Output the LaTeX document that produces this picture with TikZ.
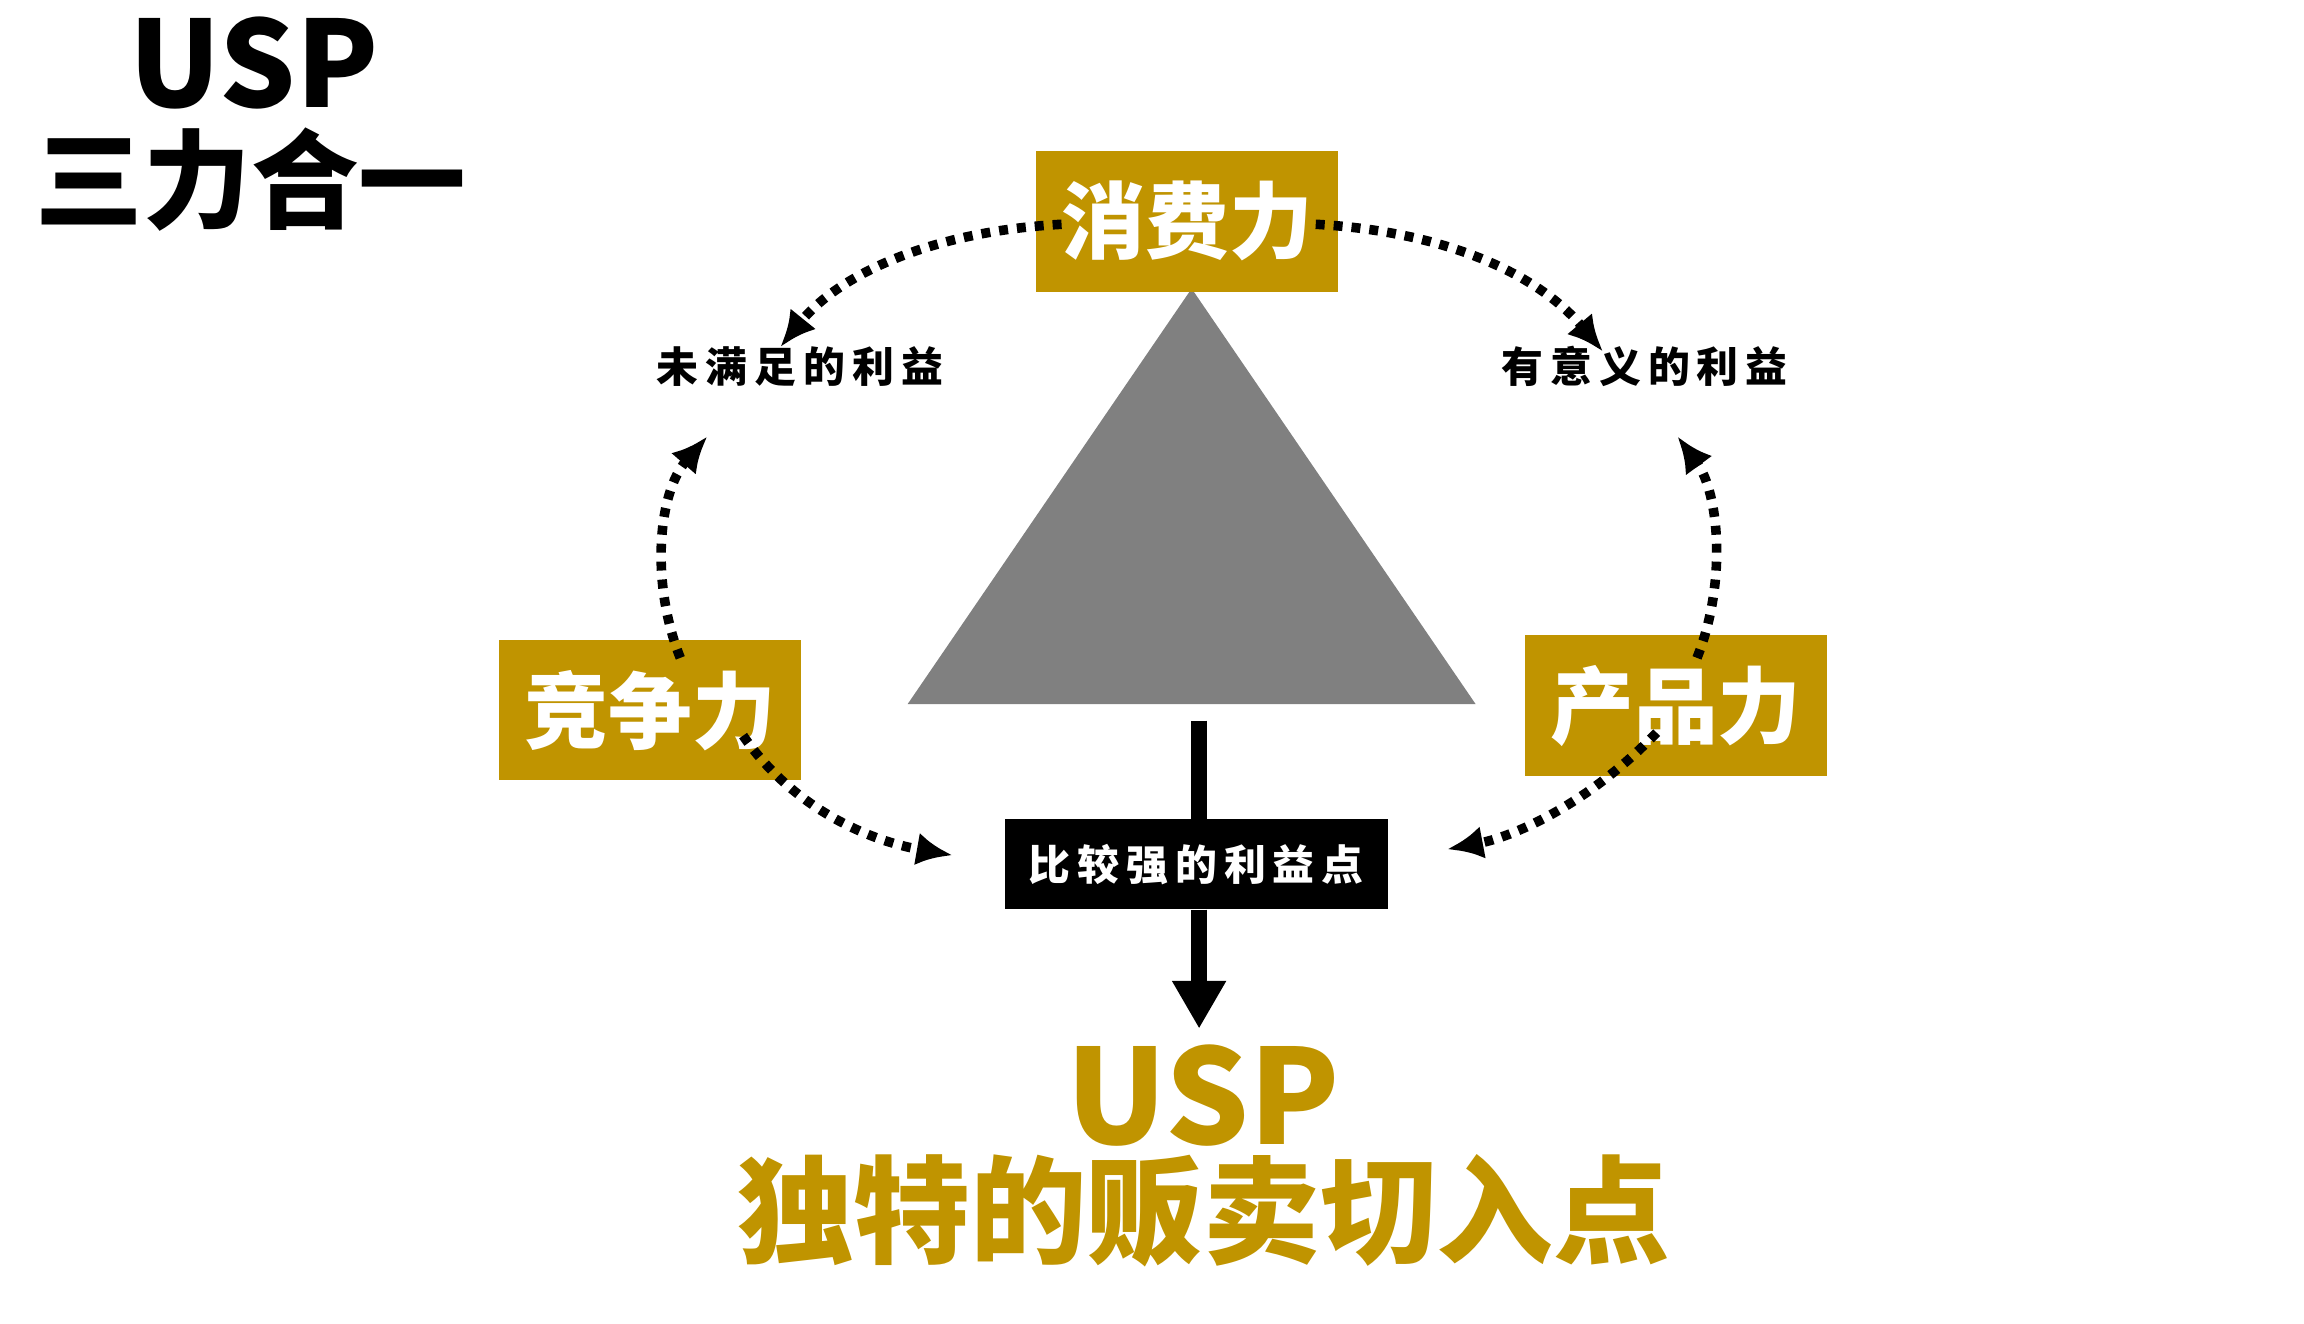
\documentclass[tikz,border=0pt]{standalone}
\usepackage{fontspec}
\newfontfamily\cjk{Noto Sans CJK SC}
\usetikzlibrary{arrows.meta}
\definecolor{gold}{HTML}{C09400}
\begin{document}
\begin{tikzpicture}[x=0.5pt,y=-0.5pt,
  goldbox/.style={fill=gold,minimum width=101pt,minimum height=47pt,inner sep=0pt,text=white,font=\cjk\bfseries\fontsize{28}{28}\selectfont},
  lbl/.style={font=\cjk\bfseries\fontsize{14}{14}\selectfont},
  dots/.style={line width=3.2pt,dash pattern=on 3pt off 3pt,-{Latex[length=12pt,width=11pt]}}]
\useasboundingbox (0,0) rectangle (1541,885);
\node[font=\cjk\bfseries\fontsize{40}{40}\selectfont] (t1) at (170,42) {USP};
\node[font=\cjk\bfseries\fontsize{36}{36}\selectfont] (t2) at (168,120) {三力合一};
\fill[black!50] (797,193) -- (607,471) -- (987,471) -- cycle;
\node[goldbox] (c) at (794,148) {消费力};
\node[goldbox] (j) at (435,475) {竞争力};
\node[goldbox] (p) at (1121,472) {产品力};
\node[lbl] (a) at (535,245) {未\,满\,足\,的\,利\,益};
\node[lbl] (b) at (1100,245) {有\,意\,义\,的\,利\,益};
\node[fill=black,text=white,minimum width=128pt,minimum height=30pt,inner sep=0pt,lbl] (k) at (800,578) {比\,较\,强\,的\,利\,益\,点};
\coordinate (tb) at (802,482);
\coordinate (ae) at (802,688);
\draw[line width=5.5pt] (tb) -- (k.north -| tb);
\draw[line width=5.5pt,-{Triangle[length=16pt,width=17pt]}] (k.south -| tb) -- (ae);
\node[text=gold,font=\cjk\bfseries\fontsize{44}{44}\selectfont] (u1) at (805,733) {USP};
\node[text=gold,font=\cjk\bfseries\fontsize{39}{39}\selectfont] (u2) at (805,810) {独特的贩卖切入点};
\coordinate (s1) at (710,150); \coordinate (e1) at (522,232);
\coordinate (s2) at (880,150); \coordinate (e2) at (1072,235);
\coordinate (s3) at (455,440); \coordinate (e3) at (473,292);
\coordinate (s4) at (1135,440); \coordinate (e4) at (1122,292);
\coordinate (s5) at (497,492); \coordinate (e5) at (637,572);
\coordinate (s6) at (1108,490); \coordinate (e6) at (968,568);
\draw[dots] (s1) .. controls (620,155) and (560,185) .. (e1);
\draw[dots] (s2) .. controls (970,155) and (1030,185) .. (e2);
\draw[dots] (s3) .. controls (435,390) and (440,330) .. (e3);
\draw[dots] (s4) .. controls (1155,390) and (1150,330) .. (e4);
\draw[dots] (s5) .. controls (530,540) and (580,562) .. (e5);
\draw[dots] (s6) .. controls (1060,540) and (1010,560) .. (e6);
\end{tikzpicture}
\end{document}
